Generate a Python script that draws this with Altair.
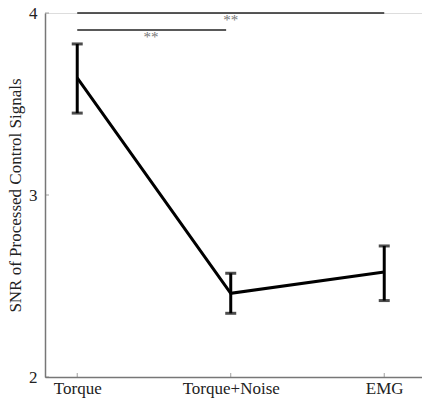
import altair as alt
import pandas as pd

# Conditions and summary statistics
conditions = ["Torque", "Torque+Noise", "EMG"]
positions = [1, 2, 3]
means = [3.643, 2.46, 2.577]
upper = [3.83, 2.57, 2.72]
lower = [3.45, 2.35, 2.42]
y_tick_values = [2, 3, 4]

# Significance brackets (start, end, level, label)
sig_start = [1, 1]
sig_end = [3, 1.97]
sig_level = [4.0, 3.907]
sig_label = ["**", "**"]
sig_label_x = [2.0, 1.48]

FONT = "Liberation Serif"
FS = 17
X_DOMAIN = [0.79, 3.246]
Y_DOMAIN = [2, 4]

df = pd.DataFrame({"pos": positions, "cond": conditions, "mean": means,
                   "hi": upper, "lo": lower})
sig = pd.DataFrame({"x0": sig_start, "x1": sig_end, "y": sig_level,
                    "lab": sig_label, "lx": sig_label_x})

label_expr = "{1: 'Torque', 2: 'Torque+Noise', 3: 'EMG'}[datum.value]"

x_scale = alt.Scale(domain=X_DOMAIN, nice=False, zero=False)
y_scale = alt.Scale(domain=Y_DOMAIN, nice=False, zero=False)

x_axis = alt.Axis(values=positions, labelExpr=label_expr, title=None,
                  ticks=False, grid=False, labelFontSize=FS,
                  labelFont=FONT, labelColor="#222", labelPadding=3,
                  labelOverlap=False, labelBound=False, labelFlush=False,
                  domainColor="#777", domainWidth=1.5)
y_axis = alt.Axis(values=y_tick_values, labelExpr="'' + datum.value",
                  ticks=False, grid=False,
                  title="SNR of Processed Control Signals",
                  titleFont=FONT, titleFontSize=FS, titleFontWeight="normal",
                  titleColor="#222", titlePadding=4,
                  labelFont=FONT, labelFontSize=FS, labelColor="#222",
                  labelOverlap=False, labelBound=False, labelFlush=False,
                  labelPadding=8, domainColor="#777", domainWidth=1.5)


def xq(field):
    return alt.X(field, type="quantitative", scale=x_scale, axis=x_axis)


def yq(field):
    return alt.Y(field, type="quantitative", scale=y_scale, axis=y_axis)


base = alt.Chart(df)

line = base.mark_line(color="black", strokeWidth=3).encode(x=xq("pos"), y=yq("mean"))

err = base.mark_rule(color="black", strokeWidth=3).encode(
    x=xq("pos"), y=yq("lo"), y2="hi:Q")

cap_hi = base.mark_tick(color="black", orient="horizontal", size=11,
                        thickness=3).encode(x=xq("pos"), y=yq("hi"))
cap_lo = base.mark_tick(color="black", orient="horizontal", size=11,
                        thickness=3).encode(x=xq("pos"), y=yq("lo"))

# inward-pointing axis ticks
x_ticks = base.mark_tick(color="#777", orient="vertical", size=4, thickness=1,
                         yOffset=-2).encode(x=xq("pos"), y=alt.datum(Y_DOMAIN[0]))
y_tick_df = pd.DataFrame({"v": y_tick_values})
y_ticks = alt.Chart(y_tick_df).mark_tick(color="#777", orient="horizontal", size=4,
                                         thickness=1, xOffset=2).encode(
    x=alt.datum(X_DOMAIN[0]), y=yq("v"))

sig_lines = alt.Chart(sig).mark_rule(color="#222", strokeWidth=1.5).encode(
    x=xq("x0"), x2="x1:Q", y=yq("y"))
sig_text = alt.Chart(sig).mark_text(color="#777", font=FONT, fontSize=15,
                                    dy=7, baseline="middle").encode(
    x=xq("lx"), y=yq("y"), text="lab:N")

chart = alt.layer(line, err, cap_hi, cap_lo, x_ticks, y_ticks, sig_lines, sig_text).properties(
    width=377, height=364,
    autosize=alt.AutoSizeParams(type="none"),
    padding={"left": 45, "top": 13, "right": 0, "bottom": 30},
).configure_view(stroke=None).configure(background="white")

chart.save("out.html", embed_options={"renderer": "svg", "actions": False})
